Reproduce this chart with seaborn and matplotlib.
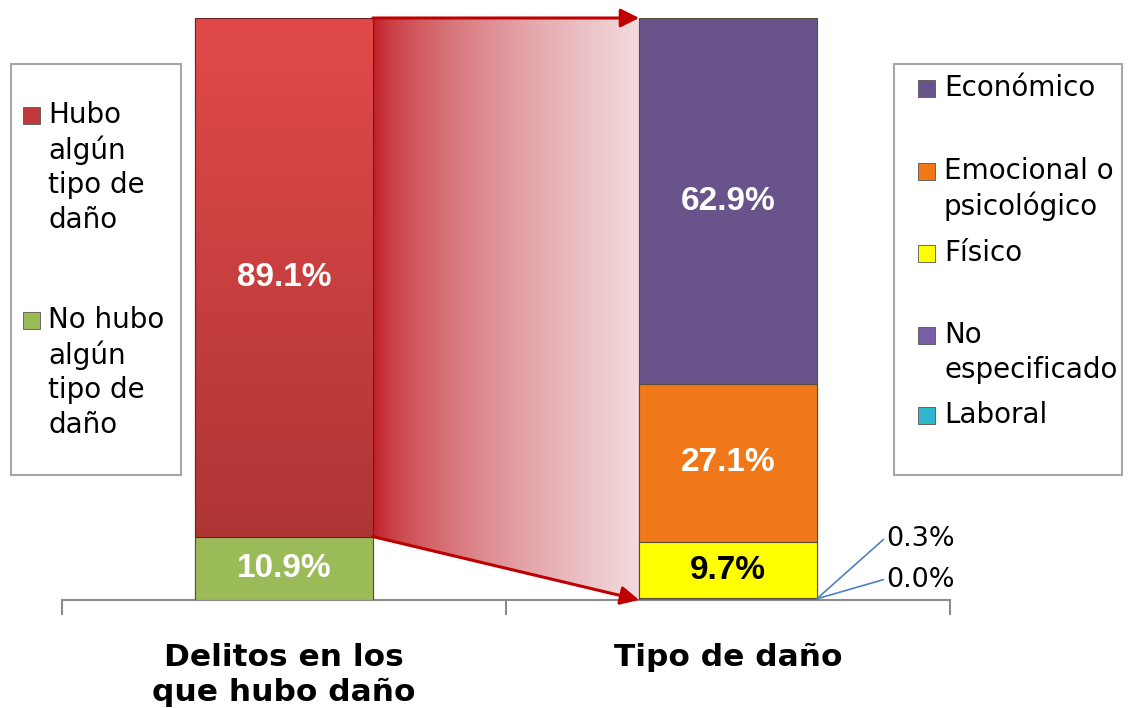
import matplotlib
matplotlib.use("Agg")
import matplotlib.pyplot as plt
import seaborn as sns
import numpy as np
import pandas as pd
from matplotlib.patches import Rectangle, Polygon, FancyArrowPatch
from matplotlib.colors import to_rgb

# ---------------- data ----------------
categories = ["Delitos en los\nque hubo daño", "Tipo de daño"]

left_series = ["No hubo algún tipo de daño", "Hubo algún tipo de daño"]   # bottom -> top
left_values = [10.9, 89.1]
left_colors = ["#9bbb59", "#c94040"]

right_series = ["Laboral", "No especificado", "Físico", "Emocional o psicológico", "Económico"]  # bottom -> top
right_values = [0.0, 0.3, 9.7, 27.1, 62.9]
right_colors = ["#31b6cf", "#7a5fa8", "#ffff00", "#f07818", "#68548a"]

left_legend_labels = ["Hubo\nalgún\ntipo de\ndaño", "No hubo\nalgún\ntipo de\ndaño"]
left_legend_colors = ["#c0393b", "#9bbb59"]
right_legend_labels = ["Económico", "Emocional o\npsicológico", "Físico", "No\nespecificado", "Laboral"]
right_legend_colors = ["#68548a", "#f07818", "#ffff00", "#7a5fa8", "#31b6cf"]

# ---------------- figure ----------------
sns.set_theme(style="white")
plt.rcParams["font.family"] = ["DejaVu Sans"]
plt.rcParams["text.color"] = "black"
plt.rcParams["xtick.color"] = "black"
plt.rcParams["xtick.labelcolor"] = "black"

W, H = 1132, 708
fig = plt.figure(figsize=(W / 100, H / 100), dpi=100)

def fx(x):
    return x / W

def fy(y):
    return 1 - y / H

ax = fig.add_axes([fx(62), fy(600), (950 - 62) / W, (600 - 18) / H])

bar_w = 0.4

def draw_stack(cat, values, colors):
    cum = np.cumsum(values)
    patches = {}
    for i in range(len(values) - 1, -1, -1):
        if values[i] <= 0:
            continue
        df = pd.DataFrame({"cat": [cat], "val": [cum[i]]})
        sns.barplot(data=df, x="cat", y="val", order=categories, color=colors[i],
                    saturation=1, width=bar_w, ax=ax, edgecolor="#5a4a3a",
                    linewidth=0.8, zorder=3)
        patches[i] = ax.patches[-1]
    return cum, patches

cumL, pL = draw_stack(categories[0], left_values, left_colors)
cumR, pR = draw_stack(categories[1], right_values, right_colors)

# vertical gradient on the red bar (lighter top, darker bottom)
p = pL[1]
x0, w = p.get_x(), p.get_width()
grad = np.linspace(0, 1, 256)[:, None]
top_c = np.array(to_rgb("#e24a4a"))
bot_c = np.array(to_rgb("#a83232"))
img = bot_c[None, None, :] * (1 - grad[:, :, None]) + top_c[None, None, :] * grad[:, :, None]
im = ax.imshow(img, extent=[x0, x0 + w, 0, cumL[1]], origin="lower", aspect="auto", zorder=3.5)
clip = Rectangle((x0, cumL[0]), w, left_values[1], transform=ax.transData)
im.set_clip_path(clip)
ax.add_patch(Rectangle((x0, cumL[0]), w, left_values[1], fill=False,
                       edgecolor="#6a2020", lw=0.8, zorder=3.6))

# gradient connector between the bars
xa = 0 + bar_w / 2
xb = 1 - bar_w / 2
t = np.linspace(0, 1, 400)
shape = t ** 0.6
c_left = np.array([0.75, 0.09, 0.12])
c_right = np.array([0.95, 0.86, 0.87])
cimg = c_left[None, :] * (1 - shape[:, None]) + c_right[None, :] * shape[:, None]
cimg = cimg[None, :, :]
cim = ax.imshow(cimg, extent=[xa, xb, 0, 100], origin="lower", aspect="auto", zorder=1)
poly = Polygon([[xa, 100], [xb, 100], [xb, 0], [xa, cumL[0]]], closed=True,
               transform=ax.transData, facecolor="none", edgecolor="none")
ax.add_patch(poly)
cim.set_clip_path(poly)

# arrows
for (y0, y1) in [(100, 100), (cumL[0], 0)]:
    arr = FancyArrowPatch((xa, y0), (xb, y1), arrowstyle="-|>", mutation_scale=28,
                          color="#c00000", lw=2.2, zorder=4, clip_on=False,
                          shrinkA=0, shrinkB=0)
    ax.add_patch(arr)

ax.set_xlim(-0.5, 1.5)
ax.set_ylim(0, 100)

# value labels
lab_font = {"family": ["Liberation Sans", "DejaVu Sans"], "weight": "bold", "size": 24}
for i, v in enumerate(left_values):
    mid = cumL[i] - v / 2
    ax.text(0, mid, f"{v:.1f}%", ha="center", va="center", color="white", zorder=6, **lab_font)
for i, v in enumerate(right_values):
    if v < 1:
        continue
    mid = cumR[i] - v / 2
    col = "black" if right_colors[i] == "#ffff00" else "white"
    ax.text(1, mid, f"{v:.1f}%", ha="center", va="center", color=col, zorder=6, **lab_font)

# small values with leader lines
small = [(1, 10.4), (0, 3.5)]  # (index in right series, label y)
xr = 1 + bar_w / 2
for idx, ly in small:
    ax.plot([xr, 1.35], [0.2, ly], color="#4f81bd", lw=1.2, clip_on=False, zorder=5)
    ax.text(1.356, ly, f"{right_values[idx]:.1f}%", ha="left", va="center",
            fontsize=19.5, color="black", clip_on=False)

# axes styling
for s in ["left", "right", "top"]:
    ax.spines[s].set_visible(False)
ax.spines["bottom"].set_color("#8c8c8c")
ax.spines["bottom"].set_linewidth(1.5)
ax.set_yticks([])
ax.set_xticks([0, 1])
ax.set_xticklabels(categories, fontsize=22.5, fontweight="bold", linespacing=1.25)
ax.set_xticks([-0.5, 0.5, 1.5], minor=True)
ax.tick_params(axis="x", which="major", bottom=True, length=0, pad=31)
ax.tick_params(axis="x", which="minor", bottom=True, length=11, width=1.5,
               color="#8c8c8c", direction="out")
ax.set_xlabel("")
ax.set_ylabel("")
ax.patch.set_alpha(0)

# legends (manual boxes)
def legend_box(x0, y0, x1, y1):
    fig.patches.append(Rectangle((fx(x0), fy(y1)), (x1 - x0) / W, (y1 - y0) / H,
                                 transform=fig.transFigure, fill=False,
                                 edgecolor="#a6a6a6", lw=1.5))

def legend_entries(labels, colors, first_ys, mx, tx):
    for lab, col, y in zip(labels, colors, first_ys):
        fig.patches.append(Rectangle((fx(mx), fy(y + 9)), 17 / W, 17 / H,
                                     transform=fig.transFigure, facecolor=col,
                                     edgecolor="#555555", lw=0.6))
        for k, line in enumerate(lab.split("\n")):
            fig.text(fx(tx), fy(y + 35 * k), line, fontsize=20, va="center", ha="left")

legend_box(11, 64, 181, 475)
legend_entries(left_legend_labels, left_legend_colors, [115, 320], 23, 48)
legend_box(894, 64, 1122, 475)
legend_entries(right_legend_labels, right_legend_colors, [88, 171, 253, 335, 415], 918, 944)

fig.savefig("out.png", dpi=100)
